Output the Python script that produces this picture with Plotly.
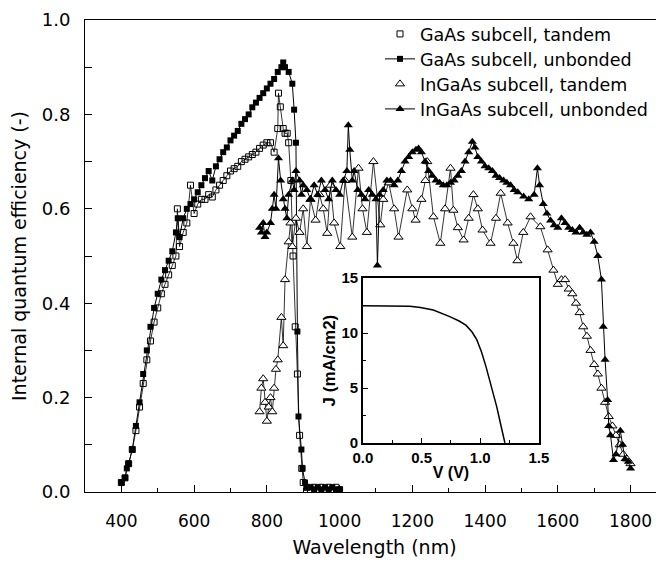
import plotly.graph_objects as go

# GaAs subcell, unbonded (filled squares)
gaas_unb_wl = [400, 410, 415, 420, 430, 440, 450, 460, 470, 480, 490, 500, 510, 520, 530, 540,
               550, 555, 560, 570, 580, 590, 600, 610, 620, 630, 640, 650, 660, 670, 680, 690,
               700, 710, 720, 730, 740, 750, 760, 770, 780, 790, 800, 810, 820, 830, 840, 845,
               850, 860, 870, 875, 880, 884, 887, 895, 898, 905, 910, 920, 930, 940, 950, 960,
               970, 980, 990, 1000]
gaas_unb_q = [0.02, 0.03, 0.05, 0.06, 0.09, 0.14, 0.19, 0.25, 0.30, 0.35, 0.39, 0.42, 0.45, 0.47, 0.49, 0.51,
              0.55, 0.58, 0.54, 0.58, 0.60, 0.61, 0.62, 0.635, 0.65, 0.665, 0.68, 0.66, 0.69, 0.705, 0.72, 0.73,
              0.745, 0.755, 0.765, 0.78, 0.79, 0.80, 0.815, 0.825, 0.835, 0.845, 0.855, 0.865, 0.875, 0.89, 0.90, 0.91,
              0.90, 0.89, 0.865, 0.81, 0.74, 0.34, 0.16, 0.09, 0.05, 0.02, 0.01, 0.01, 0.005, 0.01, 0.005, 0.01,
              0.005, 0.01, 0.005, 0.005]

# GaAs subcell, tandem (open squares)
gaas_tan_wl = [400, 410, 420, 430, 440, 450, 460, 470, 480, 490, 500, 510, 520, 530, 540, 550,
               554, 560, 570, 580, 590, 600, 610, 620, 630, 640, 650, 660, 670, 680, 690, 700,
               710, 720, 730, 740, 750, 760, 770, 780, 790, 800, 810, 820, 830, 832, 837, 845,
               850, 856, 860, 866, 872, 878, 884, 890, 896, 900, 910, 920, 930, 940, 950, 960,
               970, 980, 990, 1000]
gaas_tan_q = [0.02, 0.03, 0.06, 0.09, 0.13, 0.18, 0.23, 0.28, 0.32, 0.36, 0.39, 0.42, 0.44, 0.46, 0.48, 0.50,
              0.60, 0.52, 0.55, 0.57, 0.65, 0.59, 0.61, 0.62, 0.62, 0.63, 0.625, 0.64, 0.65, 0.66, 0.67, 0.68,
              0.685, 0.69, 0.70, 0.705, 0.71, 0.715, 0.72, 0.728, 0.735, 0.74, 0.74, 0.72, 0.77, 0.845, 0.816, 0.77,
              0.76, 0.76, 0.74, 0.66, 0.50, 0.35, 0.25, 0.12, 0.05, 0.02, 0.01, 0.005, 0.01, 0.005, 0.01, 0.005,
              0.01, 0.005, 0.01, 0.005]

# InGaAs subcell, tandem (open triangles)
ingaas_tan_wl = [780, 785, 790, 795, 800, 805, 810, 815, 820, 825, 830, 840, 845, 850, 860, 865,
                 870, 880, 890, 900, 910, 920, 934, 945, 955, 966, 975, 985, 1002, 1015, 1035, 1052,
                 1063, 1075, 1093, 1112, 1120, 1135, 1150, 1162, 1186, 1200, 1209, 1225, 1236, 1241, 1258, 1277,
                 1290, 1305, 1313, 1325, 1341, 1355, 1368, 1380, 1393, 1415, 1430, 1443, 1462, 1478, 1489, 1505,
                 1525, 1552, 1572, 1588, 1600, 1610, 1620, 1630, 1640, 1650, 1660, 1670, 1680, 1690, 1700, 1710,
                 1720, 1730, 1740, 1750, 1760, 1770, 1780, 1790, 1800]
ingaas_tan_q = [0.17, 0.22, 0.24, 0.19, 0.15, 0.18, 0.20, 0.17, 0.22, 0.26, 0.28, 0.37, 0.31, 0.45, 0.53, 0.57,
                0.52, 0.58, 0.55, 0.60, 0.52, 0.62, 0.576, 0.63, 0.60, 0.548, 0.65, 0.57, 0.52, 0.66, 0.54, 0.686,
                0.60, 0.55, 0.70, 0.566, 0.62, 0.655, 0.60, 0.54, 0.64, 0.60, 0.576, 0.62, 0.66, 0.70, 0.583, 0.527,
                0.60, 0.686, 0.597, 0.56, 0.534, 0.58, 0.63, 0.60, 0.555, 0.527, 0.58, 0.633, 0.57, 0.527, 0.49, 0.55,
                0.583, 0.562, 0.513, 0.47, 0.44, 0.45, 0.45, 0.43, 0.42, 0.40, 0.38, 0.35, 0.33, 0.30, 0.27, 0.25,
                0.22, 0.19, 0.16, 0.14, 0.12, 0.10, 0.08, 0.07, 0.06]

# InGaAs subcell, unbonded (filled triangles)
ingaas_unb_wl = [780, 785, 790, 795, 800, 810, 815, 820, 825, 832, 838, 845, 850, 855, 860, 870,
                 875, 880, 890, 895, 900, 910, 920, 930, 940, 950, 960, 970, 980, 990, 1000, 1010,
                 1020, 1024, 1028, 1035, 1040, 1050, 1060, 1070, 1080, 1090, 1100, 1104, 1110, 1120, 1130, 1140,
                 1150, 1160, 1170, 1180, 1190, 1200, 1210, 1217, 1225, 1235, 1245, 1255, 1265, 1275, 1285, 1295,
                 1305, 1315, 1325, 1335, 1345, 1355, 1365, 1372, 1380, 1390, 1400, 1410, 1420, 1430, 1440, 1451,
                 1460, 1470, 1480, 1490, 1506, 1520, 1535, 1544, 1550, 1560, 1570, 1580, 1590, 1600, 1610, 1620,
                 1630, 1640, 1650, 1660, 1670, 1680, 1690, 1700, 1710, 1720, 1725, 1730, 1737, 1740, 1745, 1753,
                 1760, 1772, 1778, 1785, 1794, 1800]
ingaas_unb_q = [0.56, 0.55, 0.57, 0.54, 0.55, 0.57, 0.60, 0.63, 0.60, 0.707, 0.66, 0.62, 0.60, 0.58, 0.63, 0.66,
                0.64, 0.68, 0.66, 0.63, 0.65, 0.64, 0.62, 0.65, 0.63, 0.66, 0.64, 0.62, 0.66, 0.64, 0.63, 0.66,
                0.68, 0.777, 0.725, 0.66, 0.68, 0.64, 0.63, 0.62, 0.64, 0.63, 0.62, 0.48, 0.63, 0.64, 0.66, 0.66,
                0.65, 0.66, 0.68, 0.70, 0.71, 0.72, 0.725, 0.728, 0.72, 0.70, 0.68, 0.67, 0.66, 0.655, 0.65, 0.65,
                0.655, 0.66, 0.67, 0.68, 0.70, 0.72, 0.742, 0.73, 0.71, 0.70, 0.69, 0.686, 0.68, 0.67, 0.665, 0.66,
                0.655, 0.65, 0.64, 0.635, 0.626, 0.62, 0.63, 0.686, 0.65, 0.61, 0.59, 0.575, 0.565, 0.56, 0.58, 0.57,
                0.56, 0.555, 0.55, 0.56, 0.55, 0.545, 0.55, 0.53, 0.50, 0.45, 0.35, 0.28, 0.195, 0.14, 0.12, 0.068,
                0.08, 0.13, 0.10, 0.07, 0.064, 0.05]

# inset J-V curve
jv_v = [0.0, 0.1, 0.2, 0.3, 0.4, 0.49, 0.6, 0.74, 0.82, 0.88, 0.93, 0.97, 1.01, 1.05, 1.10, 1.14, 1.18, 1.21]
jv_j = [12.5, 12.5, 12.5, 12.48, 12.45, 12.33, 12.1, 11.5, 11.1, 10.7, 10.1, 9.4, 8.3, 6.9, 5.0, 3.3, 1.4, 0.0]

FONT = "DejaVu Sans, Liberation Sans, sans-serif"
BOLD = "Liberation Sans, Arial, sans-serif"

fig = go.Figure()

# tandem curves: thin connecting line without a legend entry
for wl, q in [(gaas_tan_wl, gaas_tan_q), (ingaas_tan_wl, ingaas_tan_q)]:
    fig.add_trace(go.Scatter(x=wl, y=q, mode='lines', line=dict(color='black', width=0.8),
                             showlegend=False, hoverinfo='skip'))

fig.add_trace(go.Scatter(
    x=gaas_tan_wl, y=gaas_tan_q, name='GaAs subcell, tandem', mode='markers', legend='legend',
    marker=dict(symbol='square-open', size=6, color='black', line=dict(width=1)),
))
fig.add_trace(go.Scatter(
    x=gaas_unb_wl, y=gaas_unb_q, name='GaAs subcell, unbonded', mode='lines+markers', legend='legend2',
    line=dict(color='black', width=1),
    marker=dict(symbol='square', size=6, color='black'),
))
fig.add_trace(go.Scatter(
    x=ingaas_tan_wl, y=ingaas_tan_q, name='InGaAs subcell, tandem', mode='markers', legend='legend3',
    marker=dict(symbol='triangle-up', size=8, color='white', line=dict(width=1, color='black')),
))
fig.add_trace(go.Scatter(
    x=ingaas_unb_wl, y=ingaas_unb_q, name='InGaAs subcell, unbonded', mode='lines+markers', legend='legend4',
    line=dict(color='black', width=1),
    marker=dict(symbol='triangle-up', size=8, color='black'),
))

fig.add_trace(go.Scatter(
    x=jv_v, y=jv_j, mode='lines', line=dict(color='black', width=1.5),
    xaxis='x2', yaxis='y2', showlegend=False,
))

# one legend per row so each row can be placed where it is in the original
legend_style = dict(x=0.5095, xanchor='left', yanchor='middle', bgcolor='rgba(0,0,0,0)',
                    font=dict(size=17.5), itemwidth=30)

fig.update_layout(
    width=656,
    height=556,
    margin=dict(t=12, r=0, b=72, l=77, autoexpand=False),
    plot_bgcolor='white',
    paper_bgcolor='white',
    font=dict(family=FONT, size=16, color='black'),
    legend=dict(y=0.9703, **legend_style),
    legend2=dict(y=0.9174, **legend_style),
    legend3=dict(y=0.8644, **legend_style),
    legend4=dict(y=0.8114, **legend_style),
    xaxis=dict(
        range=[300, 1892],
        tickmode='linear', tick0=400, dtick=200,
        ticks='inside', ticklen=7, tickcolor='black',
        minor=dict(ticks='inside', ticklen=4, dtick=100, tick0=300, tickcolor='black'),
        showline=True, linecolor='black', linewidth=1, mirror=True,
        showgrid=False, zeroline=False,
        tickfont=dict(size=17),
        ticklabelstandoff=14,
        title=dict(text='Wavelength (nm)', standoff=10),
    ),
    yaxis=dict(
        range=[0, 1.0],
        tickmode='linear', tick0=0, dtick=0.2, tickformat='.1f',
        ticks='inside', ticklen=7, tickcolor='black',
        minor=dict(ticks='inside', ticklen=7, dtick=0.1, tickcolor='black'),
        showline=True, linecolor='black', linewidth=1,
        showgrid=False, zeroline=False,
        tickfont=dict(size=18),
        ticklabelstandoff=10,
        title=dict(text='Internal quantum efficiency (-)', standoff=10),
    ),
    xaxis2=dict(
        domain=[0.480, 0.784], anchor='y2',
        range=[0, 1.5], tickmode='linear', tick0=0, dtick=0.5, tickformat='.1f',
        ticks='inside', ticklen=5, tickcolor='black',
        minor=dict(ticks='inside', ticklen=3, dtick=0.25, tickcolor='black'),
        showline=True, linecolor='black', linewidth=1.5, mirror=True,
        showgrid=False, zeroline=False,
        tickfont=dict(size=15, family=BOLD, weight='bold'),
        title=dict(text='V (V)', font=dict(size=16, family=BOLD, weight='bold'), standoff=2),
    ),
    yaxis2=dict(
        domain=[0.104, 0.453], anchor='x2',
        range=[0, 15], tickmode='linear', tick0=0, dtick=5,
        ticks='inside', ticklen=5, tickcolor='black',
        minor=dict(ticks='inside', ticklen=3, dtick=2.5, tickcolor='black'),
        showline=True, linecolor='black', linewidth=1.5, mirror=True,
        showgrid=False, zeroline=False,
        tickfont=dict(size=15, family=BOLD, weight='bold'),
        title=dict(text='J (mA/cm2)', font=dict(size=17, family=BOLD, weight='bold'), standoff=2),
    ),
)

fig.write_html("out.html")
